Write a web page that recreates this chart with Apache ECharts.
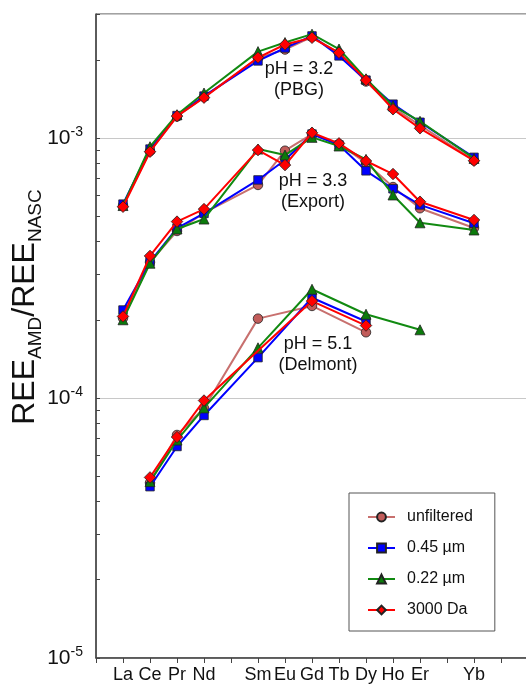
<!DOCTYPE html>
<html>
<head>
<meta charset="utf-8">
<script src="https://cdn.jsdelivr.net/npm/echarts@6.0.0/dist/echarts.min.js"></script>
<style>
  html, body { margin: 0; padding: 0; background: #fff; }
  #chart { width: 526px; height: 685px; }
</style>
</head>
<body>
<div id="chart"></div>
<script>
// x axis slots (Pm, Tm, Lu have no label in the figure)
const elements = ['', 'La', 'Ce', 'Pr', 'Nd', 'Pm', 'Sm', 'Eu', 'Gd', 'Tb', 'Dy', 'Ho', 'Er', 'Tm', 'Yb', 'Lu', ''];
const hiddenLabels = ['Pm', 'Tm', 'Lu'];
// measured elements, order of every value list below
const ree = ['La', 'Ce', 'Pr', 'Nd', 'Sm', 'Eu', 'Gd', 'Tb', 'Dy', 'Ho', 'Er', 'Yb'];

const filters = ['unfiltered', '0.45 µm', '0.22 µm', '3000 Da'];

// pH = 3.2 (PBG)
const pbgUnfiltered = [5.5e-4, 8.9e-4, 1.21e-3, 1.44e-3, 2.03e-3, 2.19e-3, 2.45e-3, 2.12e-3, 1.65e-3, 1.31e-3, 1.12e-3, 8.2e-4];
const pbg045 = [5.57e-4, 9.07e-4, 1.22e-3, 1.45e-3, 1.98e-3, 2.22e-3, 2.47e-3, 2.07e-3, 1.67e-3, 1.35e-3, 1.15e-3, 8.43e-4];
const pbg022 = [5.5e-4, 9.26e-4, 1.23e-3, 1.49e-3, 2.15e-3, 2.33e-3, 2.51e-3, 2.2e-3, 1.69e-3, 1.33e-3, 1.16e-3, 8.35e-4];
const pbg3000 = [5.44e-4, 8.86e-4, 1.215e-3, 1.43e-3, 2.04e-3, 2.29e-3, 2.43e-3, 2.13e-3, 1.67e-3, 1.29e-3, 1.09e-3, 8.18e-4];

// pH = 3.3 (Export)
const expUnfiltered = [2.03e-4, 3.33e-4, 4.39e-4, 5.15e-4, 6.6e-4, 8.94e-4, 1.036e-3, 9.48e-4, 8.04e-4, 6.48e-4, 5.37e-4, 4.51e-4];
const exp045 = [2.18e-4, 3.34e-4, 4.5e-4, 5.13e-4, 6.9e-4, 8.23e-4, 1.036e-3, 9.4e-4, 7.48e-4, 6.38e-4, 5.53e-4, 4.7e-4];
const exp022 = [2.0e-4, 3.3e-4, 4.47e-4, 4.88e-4, 9.07e-4, 8.6e-4, 1.006e-3, 9.32e-4, 8.28e-4, 6.04e-4, 4.72e-4, 4.43e-4];
const exp3000 = [2.06e-4, 3.52e-4, 4.77e-4, 5.33e-4, 8.99e-4, 7.87e-4, 1.048e-3, 9.54e-4, 8.16e-4, 7.27e-4, 5.69e-4, 4.84e-4];

// pH = 5.1 (Delmont)
const delUnfiltered = [null, 4.72e-5, 7.21e-5, 9.14e-5, 2.02e-4, null, 2.26e-4, null, 1.79e-4, null, null, null];
const del045 = [null, 4.56e-5, 6.51e-5, 8.57e-5, 1.43e-4, null, 2.43e-4, null, 1.97e-4, null, null, null];
const del022 = [null, 4.77e-5, 6.89e-5, 9.16e-5, 1.56e-4, null, 2.62e-4, null, 2.1e-4, null, 1.83e-4, null];
const del3000 = [null, 4.95e-5, 7.08e-5, 9.78e-5, null, null, 2.36e-4, null, 1.9e-4, null, null, null];

const yMin = 1e-5;
const yMax = 3e-3;

const FONT = "'Liberation Sans', Arial, Helvetica, sans-serif";

const styles = {
  'unfiltered': { symbol: 'circle', size: 9.5, line: '#c8706e', fill: '#c25c5a' },
  '0.45 µm': { symbol: 'rect', size: 8.5, line: '#0000ff', fill: '#0000ff' },
  '0.22 µm': { symbol: 'triangle', size: 10, line: '#118a11', fill: '#0b7a0b' },
  '3000 Da': { symbol: 'diamond', size: 11.5, line: '#ff0000', fill: '#ff0000' }
};

const groups = [
  [pbgUnfiltered, pbg045, pbg022, pbg3000],
  [expUnfiltered, exp045, exp022, exp3000],
  [delUnfiltered, del045, del022, del3000]
];

function toPoints(values) {
  const pts = [];
  values.forEach((v, i) => {
    if (v != null) pts.push([ree[i], v]);
  });
  return pts;
}

const series = [];
groups.forEach(group => {
  group.forEach((values, k) => {
    const name = filters[k];
    const s = styles[name];
    series.push({
      type: 'line',
      name: name,
      data: toPoints(values),
      symbol: s.symbol,
      symbolSize: s.size,
      z: 2 + k,
      lineStyle: { color: s.line, width: 2 },
      itemStyle: { color: s.fill, borderColor: '#222', borderWidth: 0.8 },
      emphasis: { disabled: true }
    });
  });
});

// small ticks at 1..9 x 10^n, drawn on a helper axis in log10 units
const yTicksLog = [];
for (let e = -5; e <= -3; e++) {
  for (let k = 1; k <= 9; k++) {
    const v = k * Math.pow(10, e);
    if (v <= yMax) yTicksLog.push(Math.log10(v));
  }
}

const chart = echarts.init(document.getElementById('chart'));

chart.setOption({
  animation: false,
  backgroundColor: '#fff',
  textStyle: { fontFamily: FONT },
  grid: {
    left: 96,
    right: -2,
    top: 14,
    bottom: 27,
    outerBoundsMode: 'none',
    containLabel: false,
    show: true,
    borderColor: '#444',
    borderWidth: 1
  },
  legend: {
    data: filters,
    orient: 'vertical',
    left: 349,
    top: 493,
    padding: [16, 22, 13, 18],
    itemWidth: 27,
    itemHeight: 11,
    itemGap: 15,
    borderColor: '#555',
    borderWidth: 1,
    selectedMode: false,
    textStyle: { fontSize: 16, lineHeight: 16, color: '#111', fontFamily: FONT, padding: [0, 0, 0, 7] }
  },
  xAxis: {
    type: 'category',
    data: elements,
    boundaryGap: false,
    axisLine: { lineStyle: { color: '#444', width: 1.5 } },
    axisTick: { interval: 0, length: 5, lineStyle: { color: '#444' } },
    axisLabel: {
      interval: 0,
      margin: 8,
      fontSize: 18,
      color: '#111',
      fontFamily: FONT,
      formatter: v => (hiddenLabels.includes(v) ? '' : v)
    },
    splitLine: { show: false }
  },
  yAxis: [{
    type: 'log',
    logBase: 10,
    min: yMin,
    max: yMax,
    name: '{m|REE}{s|AMD}{m|/REE}{s|NASC}',
    nameLocation: 'middle',
    nameRotate: 90,
    nameGap: 51,
    nameMoveOverlap: false,
    nameTextStyle: {
      color: '#111',
      fontFamily: FONT,
      padding: [0, 0, 0, 58],
      rich: {
        m: { fontSize: 32, lineHeight: 40, fontFamily: FONT, color: '#111' },
        s: { fontSize: 19, lineHeight: 19, verticalAlign: 'bottom', fontFamily: FONT, color: '#111' }
      }
    },
    axisLine: { show: true, lineStyle: { color: '#444', width: 1.5 } },
    axisTick: { show: false },
    axisLabel: {
      margin: 13,
      color: '#111',
      showMaxLabel: false,
      formatter: v => {
        const lg = Math.log10(v);
        const e = Math.round(lg);
        if (Math.abs(lg - e) > 1e-6) return '';
        return '{b|10}{sup|' + e + '}';
      },
      rich: {
        b: { fontSize: 21, lineHeight: 26, fontFamily: FONT, color: '#111' },
        sup: { fontSize: 14, lineHeight: 14, verticalAlign: 'top', fontFamily: FONT, color: '#111' }
      }
    },
    splitLine: { show: true, lineStyle: { color: '#c8c8c8', width: 1 } }
  }, {
    // helper axis: only the small inward ticks
    type: 'value',
    position: 'left',
    min: Math.log10(yMin),
    max: Math.log10(yMax),
    axisLine: { show: false },
    axisTick: { show: true, inside: true, length: 4, customValues: yTicksLog, lineStyle: { color: '#444' } },
    axisLabel: { show: false },
    splitLine: { show: false }
  }],
  graphic: [
    { type: 'text', x: 299, y: 80, z: 100, style: { text: 'pH = 3.2\n(PBG)', font: '18px ' + FONT, fill: '#111', align: 'center', verticalAlign: 'middle', lineHeight: 21 } },
    { type: 'text', x: 313, y: 192, z: 100, style: { text: 'pH = 3.3\n(Export)', font: '18px ' + FONT, fill: '#111', align: 'center', verticalAlign: 'middle', lineHeight: 21 } },
    { type: 'text', x: 318, y: 355, z: 100, style: { text: 'pH = 5.1\n(Delmont)', font: '18px ' + FONT, fill: '#111', align: 'center', verticalAlign: 'middle', lineHeight: 21 } }
  ],
  series: series
});
</script>
</body>
</html>
